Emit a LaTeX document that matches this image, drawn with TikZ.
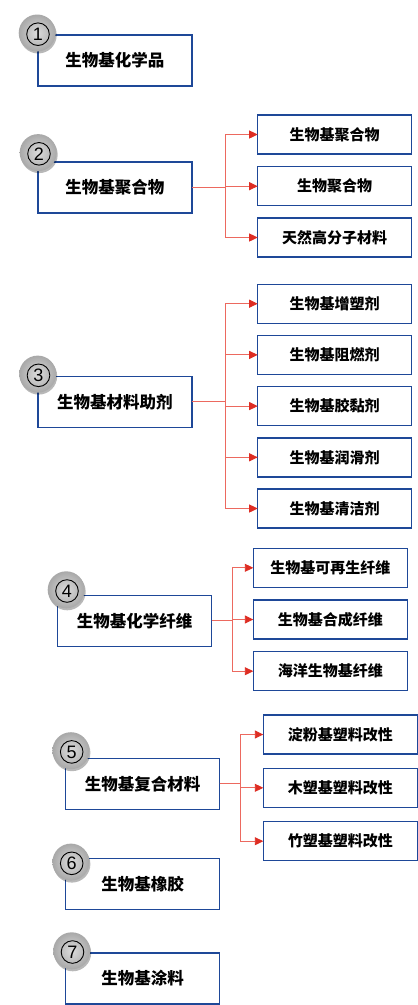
\documentclass[tikz,border=0pt]{standalone}
\usepackage{fontspec}
\newfontfamily\cjk{Noto Sans CJK SC}
\newfontfamily\numfont{Liberation Sans}
\usetikzlibrary{arrows.meta,shadows}
\definecolor{boxblue}{RGB}{30,72,152}
\definecolor{linered}{RGB}{236,105,95}
\definecolor{arrred}{RGB}{222,45,35}
\tikzset{
 mainbox/.style={draw=boxblue, line width=1.4pt, fill=white, minimum width=154pt, minimum height=51pt, inner sep=0pt, outer sep=0pt, font=\cjk\bfseries\fontsize{16.5}{16.5}\selectfont},
 subbox/.style={draw=boxblue, line width=1.4pt, fill=white, minimum width=154pt, minimum height=39pt, inner sep=0pt, outer sep=0pt, font=\cjk\bfseries\fontsize{15}{15}\selectfont},
 ball/.style={circle, minimum size=37pt, inner sep=0pt, inner color=gray!28, outer color=gray!68, drop shadow={shadow xshift=1pt, shadow yshift=-2pt, opacity=0.28, fill=black}},
 numring/.style={circle, draw=black, line width=0.9pt, minimum size=22.6pt, inner sep=0pt, font=\numfont\fontsize{18}{18}\selectfont},
 conn/.style={draw=linered, line width=0.9pt, -{Triangle[length=8.5pt,width=8pt,color=arrred]}},
}
\begin{document}
\begin{tikzpicture}[x=1pt,y=-1pt]
\useasboundingbox[fill=white] (0,0) rectangle (418,1005);
% main boxes
\node[mainbox] (b1) at (114.85,60.5) {生物基化学品};
\node[mainbox] (b2) at (114.85,187.3) {生物基聚合物};
\node[mainbox] (b3) at (114.85,401.7) {生物基材料助剂};
\node[mainbox] (b4) at (134.5,620.8) {生物基化学纤维};
\node[mainbox] (b5) at (142.7,783.8) {生物基复合材料};
\node[mainbox] (b6) at (142.7,883.7) {生物基橡胶};
\node[mainbox] (b7) at (142.7,978.3) {生物基涂料};
% sub boxes
\node[subbox] (s2a) at (334.7,134.5) {生物基聚合物};
\node[subbox] (s2b) at (334.7,186.2) {生物聚合物};
\node[subbox] (s2c) at (334.7,237.5) {天然高分子材料};
\node[subbox] (s3a) at (334.7,303.7) {生物基增塑剂};
\node[subbox] (s3b) at (334.7,354.9) {生物基阻燃剂};
\node[subbox] (s3c) at (334.7,406.1) {生物基胶黏剂};
\node[subbox] (s3d) at (334.7,457.3) {生物基润滑剂};
\node[subbox] (s3e) at (334.7,508.5) {生物基清洁剂};
\node[subbox] (s4a) at (330.3,567.8) {生物基可再生纤维};
\node[subbox] (s4b) at (330.3,619.5) {生物基合成纤维};
\node[subbox] (s4c) at (330.3,671.2) {海洋生物基纤维};
\node[subbox] (s5a) at (340.3,734.5) {淀粉基塑料改性};
\node[subbox] (s5b) at (340.3,787.8) {木塑基塑料改性};
\node[subbox] (s5c) at (340.3,841.2) {竹塑基塑料改性};
% trunks
\coordinate (t2) at (225.7,187.3);
\coordinate (t3) at (225.7,401.7);
\coordinate (t4) at (232.3,620.8);
\coordinate (t5) at (240.7,783.8);
\foreach \s in {s2a,s2b,s2c} \draw[conn] (b2.east) -- (t2) |- (\s.west);
\foreach \s in {s3a,s3b,s3c,s3d,s3e} \draw[conn] (b3.east) -- (t3) |- (\s.west);
\foreach \s in {s4a,s4b,s4c} \draw[conn] (b4.east) -- (t4) |- (\s.west);
\foreach \s in {s5a,s5b,s5c} \draw[conn] (b5.east) -- (t5) |- (\s.west);
% numbered balls
\foreach \n/\x/\y in {1/38/34.2, 2/39/153.8, 3/38.5/375.3, 4/67/591, 5/71.7/751.9, 6/71.7/863.3, 7/72.5/952}{
  \node[ball] (c\n) at (\x-0.8,\y-1.2) {};
  \node[numring] (r\n) at (\x,\y) {\n};
}
\end{tikzpicture}
\end{document}
